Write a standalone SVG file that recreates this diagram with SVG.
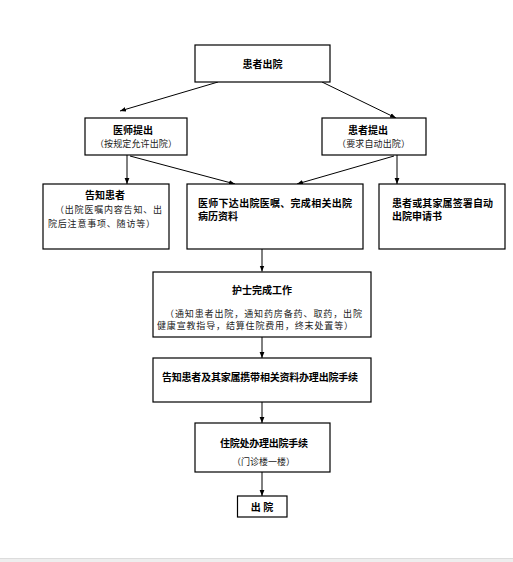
<svg xmlns="http://www.w3.org/2000/svg" width="513" height="562" viewBox="0 0 513 562">
<style>
.box{fill:#fff;stroke:#000;stroke-width:1.2}
.t{font-family:"Noto Sans CJK SC","Noto Sans",sans-serif;font-size:10px;font-weight:bold;fill:#000}
.s{font-family:"Noto Sans CJK SC","Noto Sans",sans-serif;font-size:9px;fill:#222}
.c line{stroke:#000;stroke-width:1}
</style>
<defs>
<marker id="ah" viewBox="0 0 10 10" refX="10" refY="5" markerWidth="6" markerHeight="6" orient="auto" markerUnits="userSpaceOnUse">
<path d="M0,1 L10,5 L0,9 z" fill="#000"/>
</marker>
</defs>
<rect width="513" height="562" fill="#fff"/>
<rect x="0" y="558" width="513" height="4" fill="#eeeeee"/>
<line x1="0" y1="558.5" x2="513" y2="558.5" stroke="#dcdcdc"/>
<g class="c">
<line x1="218" y1="82" x2="120" y2="111" marker-end="url(#ah)"/>
<line x1="322" y1="82" x2="396" y2="118" marker-end="url(#ah)"/>
<line x1="127" y1="155" x2="127" y2="184" marker-end="url(#ah)"/>
<line x1="130" y1="156" x2="235" y2="184" marker-end="url(#ah)"/>
<line x1="394" y1="156" x2="297" y2="184" marker-end="url(#ah)"/>
<line x1="397" y1="155" x2="397" y2="184" marker-end="url(#ah)"/>
<line x1="262" y1="249" x2="262" y2="271.5" marker-end="url(#ah)"/>
<line x1="262" y1="337" x2="262" y2="358" marker-end="url(#ah)"/>
<line x1="262" y1="402" x2="262" y2="423" marker-end="url(#ah)"/>
<line x1="262" y1="472" x2="262" y2="496" marker-end="url(#ah)"/>
</g>
<g id="n1"><rect class="box" x="195" y="45" width="135" height="37"/><text class="t" x="262.5" y="68" text-anchor="middle">患者出院</text></g>
<g id="n2"><rect class="box" x="85" y="118" width="102" height="37"/><text class="t" x="113" y="134">医师提出</text><text class="s" x="95" y="147" textLength="82">（按规定允许出院）</text></g>
<g id="n3"><rect class="box" x="322" y="118" width="104" height="37"/><text class="t" x="348" y="134">患者提出</text><text class="s" x="337" y="147" textLength="73">（要求自动出院）</text></g>
<g id="n4"><rect class="box" x="43" y="184" width="126" height="65"/><text class="t" x="85" y="199">告知患者</text><text class="s" x="55" y="212.5" textLength="107">（出院医嘱内容告知、出</text><text class="s" x="48" y="226.5" textLength="107">院后注意事项、随访等）</text></g>
<g id="n5"><rect class="box" x="187" y="184" width="176" height="65"/><text class="t" x="198" y="206.5" textLength="154">医师下达出院医嘱、完成相关出院</text><text class="t" x="198" y="220">病历资料</text></g>
<g id="n6"><rect class="box" x="379" y="184" width="126" height="65"/><text class="t" x="392" y="206.5" textLength="101">患者或其家属签署自动</text><text class="t" x="392" y="220">出院申请书</text></g>
<g id="n7"><rect class="box" x="153" y="272" width="218" height="65"/><text class="t" x="262" y="294" text-anchor="middle">护士完成工作</text><text class="s" x="165" y="316.5" textLength="197">（通知患者出院，通知药房备药、取药，出院</text><text class="s" x="157" y="328.5" textLength="196">健康宣教指导，结算住院费用，终末处置等）</text></g>
<g id="n8"><rect class="box" x="153" y="358" width="218" height="44"/><text class="t" x="162" y="380.5" textLength="196">告知患者及其家属携带相关资料办理出院手续</text></g>
<g id="n9"><rect class="box" x="195" y="423" width="135" height="49"/><text class="t" x="220" y="446.5" textLength="88">住院处办理出院手续</text><text class="s" x="232" y="465" textLength="63">（门诊楼一楼）</text></g>
<g id="n10"><rect class="box" x="237.5" y="496" width="49.5" height="21"/><text class="t" x="262" y="511" text-anchor="middle">出 院</text></g>
</svg>
